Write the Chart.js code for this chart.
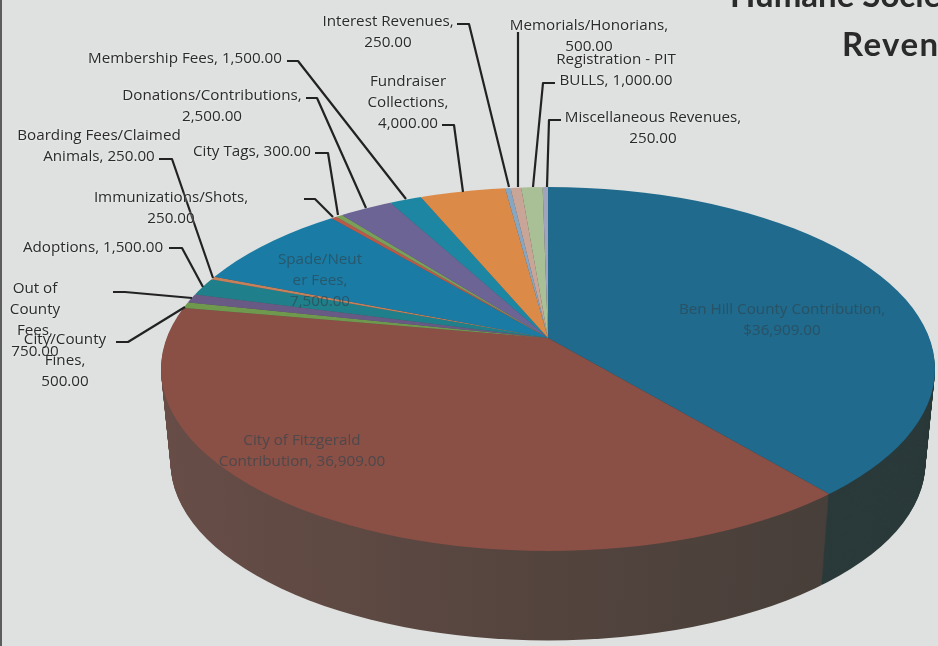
<!DOCTYPE html>
<html lang="en">
<head>
  <meta charset="UTF-8" />
  <title>Humane Society Revenues</title>
  <script src="https://cdn.jsdelivr.net/npm/chart.js"></script>
  <style>
    html, body { margin: 0; padding: 0; }
    body {
      width: 938px; height: 646px; position: relative; overflow: hidden;
      background: #dee1df;
      font-family: "Open Sans", sans-serif;
      color: #2b2b2b;
    }
    #edge { position: absolute; left: 0; top: 0; width: 2px; height: 646px; background: #5d5d5d; }
    #pie { position: absolute; left: 0; top: 0; }
    .lbl {
      position: absolute; transform: translateX(-50%);
      font-size: 15.2px; line-height: 21px; text-align: center; white-space: pre;
      text-shadow: 0 0 3px #f4f5f4;
    }
    .inside { color: #2f4650; opacity: .66; text-shadow: none; }
    .title {
      position: absolute; font-family: Lato, sans-serif;
      font-size: 33px; font-weight: 700; line-height: 40px; white-space: pre; color: #2a2a2a;
    }
  </style>
</head>
<body>
  <div id="edge"></div>
  <canvas id="pie" width="938" height="646"></canvas>
  <div class="title" style="left:730px;top:-26px">Humane Society</div>
  <div class="title" style="left:842px;top:23px;letter-spacing:1.4px">Revenues</div>

  <script>
    // clockwise from 12 o'clock
    const categories = [
      'Ben Hill County Contribution', 'City of Fitzgerald Contribution', 'City/County Fines',
      'Out of County Fees', 'Adoptions', 'Boarding Fees/Claimed Animals', 'Spade/Neuter Fees',
      'Immunizations/Shots', 'City Tags', 'Donations/Contributions', 'Membership Fees',
      'Fundraiser Collections', 'Interest Revenues', 'Memorials/Honorians',
      'Registration - PIT BULLS', 'Miscellaneous Revenues'
    ];
    const revenues = [36909, 36909, 500, 750, 1500, 250, 7500, 250, 300, 2500, 1500, 4000, 250, 500, 1000, 250];
    const topColors = [
      '#1f6a8d', '#8a4f45', '#6f9a4e', '#685a85', '#1f7f8a', '#c8805a', '#1a7ba5', '#b9594a',
      '#79a059', '#6d6496', '#1d87a3', '#dc8a48', '#86a6c2', '#c8a596', '#a9bf95', '#a0a5bd'
    ];

    // label text, centre x, top y
    const labelLines = [
      ['Interest Revenues,\n250.00', 388, 10],
      ['Memorials/Honorians,\n500.00', 589, 14],
      ['Registration - PIT\nBULLS, 1,000.00', 616, 48],
      ['Miscellaneous Revenues,\n250.00', 653, 106],
      ['Fundraiser\nCollections,\n4,000.00', 408, 70],
      ['Membership Fees, 1,500.00', 185, 47],
      ['Donations/Contributions,\n2,500.00', 212, 84],
      ['Boarding Fees/Claimed\nAnimals, 250.00', 99, 124],
      ['City Tags, 300.00', 252, 140],
      ['Immunizations/Shots,\n250.00', 171, 186],
      ['Adoptions, 1,500.00', 93, 236],
      ['Out of\nCounty\nFees,\n750.00', 35, 277],
      ['City/County\nFines,\n500.00', 65, 328]
    ];
    const insideLines = [
      ['Ben Hill County Contribution,\n$36,909.00', 782, 298],
      ['City of Fitzgerald\nContribution, 36,909.00', 302, 429],
      ['Spade/Neut\ner Fees,\n7,500.00', 320, 248]
    ];
    const leaders = [
      [[457, 24], [469, 24], [509, 187]],
      [[518, 32], [518, 187]],
      [[555, 83], [543, 83], [533, 187]],
      [[561, 120], [549, 120], [547, 187]],
      [[442, 125], [454, 125], [463, 192]],
      [[287, 61], [298, 61], [406, 199]],
      [[306, 98], [317, 98], [366, 208]],
      [[315, 153], [328, 153], [338, 215]],
      [[304, 199], [315, 199], [333, 217]],
      [[159, 159], [172, 159], [213, 278]],
      [[169, 248], [182, 248], [203, 287]],
      [[113, 292], [125, 292], [192, 298]],
      [[116, 342], [128, 342], [185, 307]]
    ];

    function addLabels(list, cls) {
      list.forEach(([text, x, y]) => {
        const d = document.createElement('div');
        d.className = cls;
        d.textContent = text;
        d.style.left = x + 'px';
        d.style.top = y + 'px';
        document.body.appendChild(d);
      });
    }
    addLabels(labelLines, 'lbl');
    addLabels(insideLines, 'lbl inside');

    // top face outline, and the point the slices meet (off centre, it is a perspective shot)
    const face = { cx: 548, cy: 369, rx: 387, ry: 182, apexOffset: 31, tilt: 0.465 };
    const wallDepth = 94;
    const wallShrink = 0.025;

    function drawFace(ctx, arcs, k, shrink) {
      const rx = face.rx * shrink, ry = face.ry * shrink;
      const cy = face.cy + k;
      ctx.save();
      ctx.beginPath();
      ctx.ellipse(face.cx, cy, rx, ry, 0, 0, Math.PI * 2);
      ctx.clip();
      const s = rx * 1.3 / arcs[0].outerRadius;
      ctx.translate(face.cx, cy - face.apexOffset * shrink);
      ctx.scale(s, s * face.tilt);
      ctx.translate(-arcs[0].x, -arcs[0].y);
      arcs.forEach(a => a.draw(ctx));
      ctx.restore();
    }

    function wallArcs(ctx, arcs) {
      const brown = ctx.createLinearGradient(165, 0, 830, 0);
      brown.addColorStop(0, '#6c4f49');
      brown.addColorStop(0.45, '#54443e');
      brown.addColorStop(1, '#3b3a35');
      return arcs.map((a, i) => {
        const w = Object.create(a);
        w.options = {
          backgroundColor: i === 1 ? brown : i === 0 ? '#2b3a3a' : '#55504c',
          borderColor: 'transparent', borderWidth: 0, borderAlign: 'center',
          borderRadius: 0, offset: 0, spacing: 0, circular: true
        };
        return w;
      });
    }

    const pie3d = {
      id: 'pie3d',
      beforeDatasetsDraw(chart) {
        const ctx = chart.ctx;
        const arcs = chart.getDatasetMeta(0).data;
        const walls = wallArcs(ctx, arcs);
        for (let k = wallDepth; k > 0; k--) {
          drawFace(ctx, walls, k, 1 - wallShrink * k / wallDepth);
        }
        drawFace(ctx, arcs, 0, 1);
        return false;
      },
      afterDraw(chart) {
        const ctx = chart.ctx;
        ctx.save();
        ctx.strokeStyle = '#222';
        ctx.lineWidth = 2.2;
        ctx.lineJoin = 'round';
        leaders.forEach(pts => {
          ctx.beginPath();
          pts.forEach((p, i) => i ? ctx.lineTo(p[0], p[1]) : ctx.moveTo(p[0], p[1]));
          ctx.stroke();
        });
        ctx.restore();
      }
    };

    new Chart(document.getElementById('pie'), {
      type: 'pie',
      data: {
        labels: categories,
        datasets: [{ data: revenues, backgroundColor: topColors, borderWidth: 0 }]
      },
      options: {
        responsive: false,
        animation: false,
        plugins: { legend: { display: false }, tooltip: { enabled: false } }
      },
      plugins: [pie3d]
    });
  </script>
</body>
</html>
